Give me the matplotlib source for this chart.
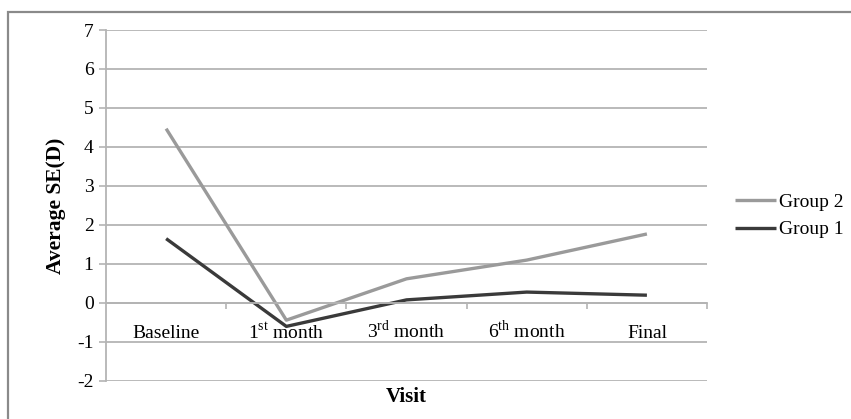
import numpy as np
import matplotlib
matplotlib.use('Agg')
import matplotlib.pyplot as plt
from matplotlib.patches import Rectangle

visits = ['Baseline', '1$^{\\mathregular{st}}$ month', '3$^{\\mathregular{rd}}$ month',
          '6$^{\\mathregular{th}}$ month', 'Final']
group2 = [4.47, -0.44, 0.62, 1.10, 1.77]
group1 = [1.65, -0.60, 0.08, 0.28, 0.20]


def main():
    plt.rcParams['font.family'] = ['Liberation Serif', 'DejaVu Serif']
    plt.rcParams['mathtext.fontset'] = 'custom'
    plt.rcParams['mathtext.rm'] = 'Liberation Serif'
    plt.rcParams['axes.unicode_minus'] = False

    fig = plt.figure(figsize=(8.51, 4.19), dpi=100)
    ax = fig.add_axes([0.1246, 0.0907, 0.7062, 0.8377])

    # outer chart border (runs off the right and bottom edges)
    fig.patches.append(Rectangle((0.0094, -0.2), 1.2, 0.971 + 0.2, transform=fig.transFigure,
                                 fill=False, edgecolor='#8a8a8a', linewidth=1.6, clip_on=False))

    x = np.arange(len(visits))
    ax.plot(x, group2, color='#9a9a9a', lw=2.4, label='Group 2', solid_capstyle='butt')
    ax.plot(x, group1, color='#3a3a3a', lw=2.4, label='Group 1', solid_capstyle='butt')

    ax.set_xlim(-0.5, len(visits) - 0.5)
    ax.set_ylim(-2, 7)
    ax.set_yticks(range(-2, 8))
    ax.grid(axis='y', color='#b4b4b4', lw=1.3)
    ax.set_axisbelow(True)

    for s in ['top', 'right']:
        ax.spines[s].set_visible(False)
    ax.spines['left'].set_color('#b4b4b4')
    ax.spines['left'].set_linewidth(1.3)
    ax.spines['bottom'].set_position(('data', 0))
    ax.spines['bottom'].set_color('#b4b4b4')
    ax.spines['bottom'].set_linewidth(1.3)

    ax.set_xticks(x)
    ax.set_xticklabels(visits, fontsize=14, va='baseline')
    ax.tick_params(axis='x', length=0, pad=25)
    ax.set_xticks(np.arange(0.5, len(visits)), minor=True)
    ax.tick_params(axis='x', which='minor', length=4, color='#b4b4b4', width=1.2)
    ax.tick_params(axis='y', labelsize=14, length=5, color='#b4b4b4', width=1.2, pad=4)

    ax.set_ylabel('Average SE(D)', fontsize=15.5, fontweight='bold', labelpad=8)
    fig.text(0.4775, 1 - 397 / 419, 'Visit', fontsize=15, fontweight='bold',
             ha='center', va='center')

    h, l = ax.get_legend_handles_labels()
    fig.legend(h, l, loc='center left', bbox_to_anchor=(735 / 851, 1 - 216 / 419),
               frameon=False, fontsize=14, handlelength=2.1, handletextpad=0.15,
               borderpad=0, borderaxespad=0, labelspacing=0.5)

    fig.savefig('out.png', dpi=100)


if __name__ == "__main__":
    main()
